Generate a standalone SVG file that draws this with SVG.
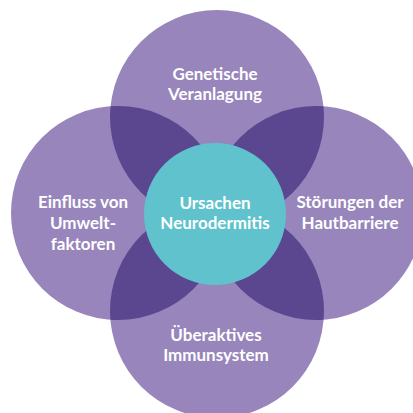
<svg xmlns="http://www.w3.org/2000/svg" width="413" height="413" viewBox="0 0 413 413">
<style>
.petal{fill:#9785bc}
.over{fill:#5b4690}
.core{fill:#5fc2cc}
text{font-family:Lato,"Open Sans",sans-serif;font-size:17px;font-weight:700;fill:#ffffff;text-anchor:middle}
</style>
<defs>
<clipPath id="cTop"><circle cx="217" cy="117" r="107"/></clipPath>
<clipPath id="cBottom"><circle cx="217" cy="311" r="107"/></clipPath>
</defs>
<rect width="413" height="413" fill="#ffffff"/>
<g id="top">
<circle class="petal" cx="217" cy="117" r="107"/>
<text x="215" y="80">Genetische</text>
<text x="215" y="100">Veranlagung</text>
</g>
<g id="left">
<circle class="petal" cx="118" cy="213" r="107"/>
<text x="83" y="208">Einfluss von</text>
<text x="83" y="229">Umwelt-</text>
<text x="83" y="250">faktoren</text>
</g>
<g id="right">
<circle class="petal" cx="316" cy="213" r="107"/>
<text x="350" y="208">Störungen der</text>
<text x="350" y="229">Hautbarriere</text>
</g>
<g id="bottom">
<circle class="petal" cx="217" cy="311" r="107"/>
</g>
<g id="overlaps">
<circle class="over" cx="118" cy="213" r="107" clip-path="url(#cTop)"/>
<circle class="over" cx="316" cy="213" r="107" clip-path="url(#cTop)"/>
<circle class="over" cx="118" cy="213" r="107" clip-path="url(#cBottom)"/>
<circle class="over" cx="316" cy="213" r="107" clip-path="url(#cBottom)"/>
</g>
<g id="bottom-label">
<text x="216" y="341">Überaktives</text>
<text x="216" y="361">Immunsystem</text>
</g>
<g id="center">
<circle class="core" cx="215" cy="214" r="71"/>
<text x="215" y="209">Ursachen</text>
<text x="215" y="229">Neurodermitis</text>
</g>
<g id="connectors"/>
</svg>
